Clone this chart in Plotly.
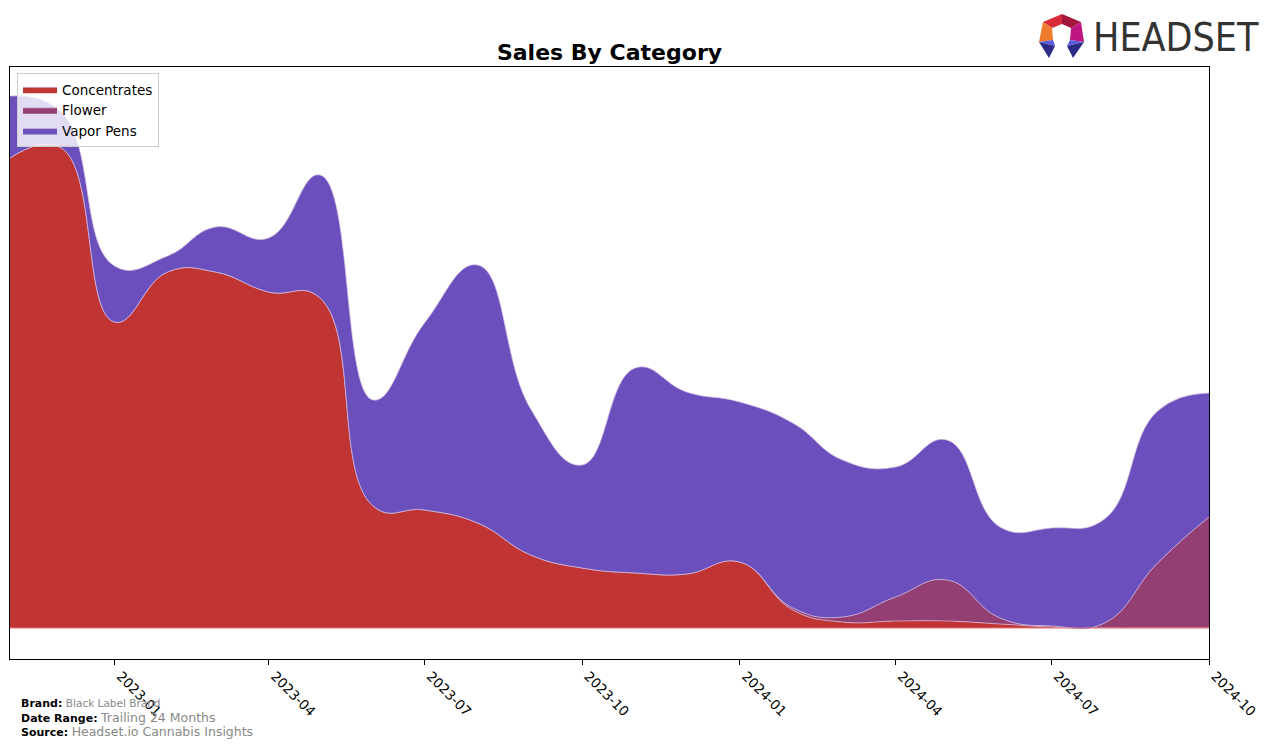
import plotly.graph_objects as go

# ---------------- data (monthly, arbitrary sales units) ----------------
months = ["2022-11-01", "2022-12-01", "2023-01-01", "2023-02-01", "2023-03-01", "2023-04-01",
          "2023-05-01", "2023-06-01", "2023-07-01", "2023-08-01", "2023-09-01", "2023-10-01",
          "2023-11-01", "2023-12-01", "2024-01-01", "2024-02-01", "2024-03-01", "2024-04-01",
          "2024-05-01", "2024-06-01", "2024-07-01", "2024-08-01", "2024-09-01", "2024-10-01"]
concentrates = [470, 480, 306, 356, 356, 336, 330, 122, 118, 105, 73, 60,
                55, 54, 66, 18, 6, 7, 7, 4, 1, 0, 0, 0]
flower = [0, 0, 0, 0, 0, 0, 0, 0, 0, 0, 0, 0,
          0, 0, 0, 2, 5, 24, 41, 6, 1, 5, 65, 111]
vapor_pens = [62, 36, 56, 16, 45, 54, 123, 106, 187, 258, 146, 103,
              205, 182, 160, 185, 157, 130, 140, 91, 98, 104, 152, 124]

series_names = ["Concentrates", "Flower", "Vapor Pens"]
series_values = [concentrates, flower, vapor_pens]
series_colors = ["#C13434", "#943F74", "#6A4FBD"]

tick_vals = ["2023-01-01", "2023-04-01", "2023-07-01", "2023-10-01",
             "2024-01-01", "2024-04-01", "2024-07-01", "2024-10-01"]
tick_text = ["2023-01", "2023-04", "2023-07", "2023-10",
             "2024-01", "2024-04", "2024-07", "2024-10"]

# ---------------- layout geometry (pixels) ----------------
W, H = 1276, 747
L, R, T, B = 10, 1209, 67, 659


def px(x):
    return (x - L) / (R - L)


def py(y):
    return (B - y) / (B - T)


fig = go.Figure()
for name, vals, col in zip(series_names, series_values, series_colors):
    fig.add_trace(go.Scatter(
        x=months, y=vals, name=name, mode="lines",
        stackgroup="one", fillcolor=col,
        line=dict(shape="spline", smoothing=1.3, width=0.8, color="rgba(215,190,225,0.9)"),
        hoverinfo="x+y+name",
    ))

# baseline stroke of the stack
fig.add_shape(type="line", xref="paper", yref="y", x0=0, x1=1, y0=0, y1=0,
              line=dict(color="#E27878", width=1), layer="above")

font_family = "DejaVu Sans, Arial, sans-serif"

fig.update_layout(
    width=W, height=H,
    margin=dict(l=L, r=W - R, t=T, b=H - B, pad=0),
    paper_bgcolor="white", plot_bgcolor="white",
    font=dict(family=font_family, color="black", size=14),
    title=dict(text="<b>Sales By Category</b>", x=0.5, xref="paper", xanchor="center",
               y=1 - 52 / H, yanchor="middle", font=dict(size=22, color="black")),
    showlegend=True,
    legend=dict(x=px(17), y=py(73), xanchor="left", yanchor="top",
                bgcolor="rgba(255,255,255,0.8)", bordercolor="#CCCCCC", borderwidth=1,
                font=dict(size=13.5), traceorder="normal", itemwidth=34,
                tracegroupgap=0),
    xaxis=dict(type="date", range=["2022-11-01", "2024-10-01"],
               tickvals=tick_vals, ticktext=tick_text, tickangle=45,
               ticks="outside", ticklen=5, tickcolor="black", tickwidth=1,
               ticklabelshift=6, ticklabelstandoff=-2,
               showline=True, linecolor="black", linewidth=1, mirror=True,
               showgrid=False, zeroline=False, tickfont=dict(size=13.5)),
    yaxis=dict(range=[-31, 561], showticklabels=False, ticks="",
               showline=True, linecolor="black", linewidth=1, mirror=True,
               showgrid=False, zeroline=False),
)

# ---------------- footer ----------------
footer = [
    (703, "Brand:", "Black Label Brand", 10.5),
    (717, "Date Range:", "Trailing 24 Months", 12.5),
    (731, "Source:", "Headset.io Cannabis Insights", 12.5),
]
for yy, lab, val, fs in footer:
    fig.add_annotation(
        xref="paper", yref="paper", x=px(19), y=py(yy), xanchor="left", yanchor="middle",
        text=f"<b><span style='font-size:11px;color:black'>{lab}</span></b> "
             f"<span style='font-size:{fs}px;color:#888888'>{val}</span>",
        showarrow=False, font=dict(size=11, family=font_family),
    )

# ---------------- HEADSET logo ----------------
def poly(points, color):
    d = "M " + " L ".join(f"{px(a):.5f},{py(b):.5f}" for a, b in points) + " Z"
    fig.add_shape(type="path", xref="paper", yref="paper", path=d,
                  fillcolor=color, line=dict(width=0), layer="above")


poly([(1043, 22), (1062, 14), (1062, 24), (1052, 28)], "#D92B3A")
poly([(1062, 14), (1081, 22), (1071, 28), (1062, 24)], "#A3163C")
poly([(1043, 22), (1052, 28), (1053, 40), (1039, 42)], "#F07B2A")
poly([(1081, 22), (1084, 42), (1070, 40), (1071, 28)], "#BE1580")
poly([(1039, 42), (1053, 40), (1055, 46)], "#5B5BDA")
poly([(1039, 42), (1055, 46), (1049, 58)], "#2B2B86")
poly([(1084, 42), (1070, 40), (1067, 46)], "#5B5BDA")
poly([(1084, 42), (1067, 46), (1073, 58)], "#2B2B86")

fig.add_annotation(xref="paper", yref="paper", x=px(1091), y=py(37), xanchor="left",
                   yanchor="middle", text="HEADSET", showarrow=False,
                   font=dict(size=39, color="#333333",
                             family="Liberation Sans Narrow, DejaVu Sans Condensed, Arial Narrow, sans-serif"))

fig.write_html("out.html")
